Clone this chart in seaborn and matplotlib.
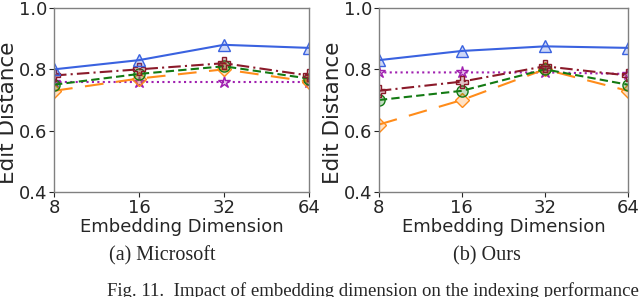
import matplotlib
matplotlib.use("Agg")
import matplotlib.pyplot as plt
import seaborn as sns
import pandas as pd

dims = [8, 16, 32, 64]
dim_labels = ["8", "16", "32", "64"]
series_names = ["s1", "s2", "s3", "s4", "s5"]

# left panel: Microsoft
ms_blue = [0.80, 0.83, 0.88, 0.87]
ms_brown = [0.78, 0.80, 0.82, 0.78]
ms_green = [0.75, 0.785, 0.81, 0.77]
ms_orange = [0.73, 0.77, 0.80, 0.76]
ms_purple = [0.76, 0.76, 0.76, 0.76]

# right panel: Ours
our_blue = [0.83, 0.86, 0.875, 0.87]
our_brown = [0.73, 0.76, 0.81, 0.78]
our_green = [0.70, 0.73, 0.80, 0.75]
our_orange = [0.62, 0.70, 0.80, 0.73]
our_purple = [0.79, 0.79, 0.79, 0.785]

styles = {
    "s1": dict(color="#3a62e0", ls="-", marker="^", ms=9),
    "s2": dict(color="#8b1a2a", ls=(0, (6, 2, 1, 2)), marker="P", ms=9),
    "s3": dict(color="#137a13", ls=(0, (4, 2)), marker="o", ms=8),
    "s4": dict(color="#ff8c1a", ls=(0, (9, 6)), marker="D", ms=7),
    "s5": dict(color="#a020b0", ls=(0, (1, 1.6)), marker="*", ms=9),
}

sns.set_style("white")
plt.rcParams["font.family"] = ["DejaVu Sans"]

fig = plt.figure(figsize=(6.4, 2.97), dpi=100)
ax1 = fig.add_axes([0.0844, 0.3535, 0.398, 0.6195])
ax2 = fig.add_axes([0.592, 0.3535, 0.389, 0.6195])

panels = [
    (ax1, [ms_blue, ms_brown, ms_green, ms_orange, ms_purple]),
    (ax2, [our_blue, our_brown, our_green, our_orange, our_purple]),
]

for ax, vals in panels:
    order = [4, 3, 2, 1, 0]
    for i in order:
        name = series_names[i]
        st = styles[name]
        df = pd.DataFrame({"dim": dims, "val": vals[i]})
        sns.lineplot(data=df, x="dim", y="val", ax=ax, color=st["color"],
                     linewidth=1.5, marker=st["marker"], markersize=st["ms"],
                     markeredgecolor=st["color"], legend=False)
        line = ax.get_lines()[-1]
        line.set_linestyle(st["ls"])
        line.set_markerfacecolor(matplotlib.colors.to_rgba(st["color"], 0.25))
        line.set_markeredgewidth(1.0)
    ax.set_xscale("log", base=2)
    ax.set_xlim(8, 64)
    ax.set_ylim(0.4, 1.0)
    ax.set_xticks(dims)
    ax.set_xticklabels(dim_labels)
    ax.minorticks_off()
    ax.set_yticks([0.4, 0.6, 0.8, 1.0])
    ax.set_yticklabels(["0.4", "0.6", "0.8", "1.0"])
    ax.tick_params(axis="both", labelsize=13, length=3.5, width=0.8,
                   direction="out", left=True, bottom=True, pad=1.5)
    for sp in ax.spines.values():
        sp.set_color("#808080")
        sp.set_linewidth(1.0)
    ax.set_xlabel("Embedding Dimension", fontsize=13, labelpad=1)
    ax.set_ylabel("Edit Distance", fontsize=15.5, labelpad=0.5)
    ax.yaxis.label.set_y(0.43)

serif = ["Liberation Serif", "DejaVu Serif"]
fig.text(0.253, 0.138, "(a) Microsoft", ha="center", va="center",
         fontsize=14.5, family=serif)
fig.text(0.761, 0.138, "(b) Ours", ha="center", va="center",
         fontsize=14.5, family=serif)
fig.text(0.167, 0.005, "Fig. 11.  Impact of embedding dimension on the indexing performance.",
         ha="left", va="baseline", fontsize=13.5, family=serif)

fig.savefig("out.png", dpi=100)
